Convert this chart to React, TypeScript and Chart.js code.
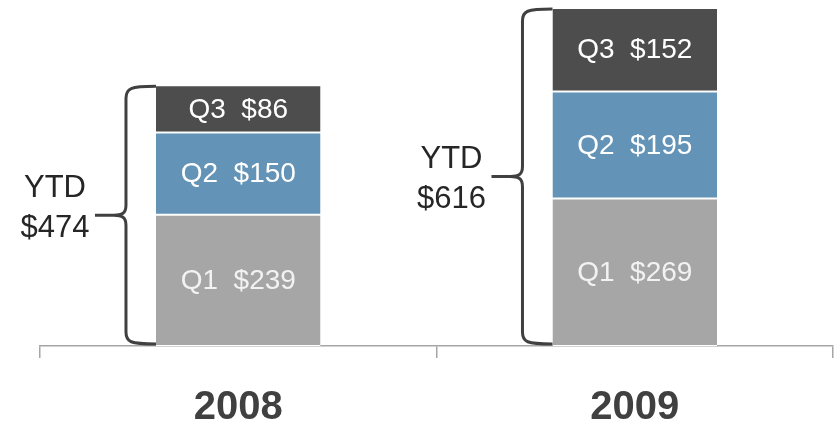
import React, { useEffect, useRef } from 'react';
import { Chart, registerables } from 'chart.js';

Chart.register(...registerables);

const categories = ['2008', '2009'];
const seriesNames = ['Q1', 'Q2', 'Q3'];
const q1Values = [239, 269];
const q2Values = [150, 195];
const q3Values = [86, 152];
const ytdLabels = ['$474', '$616'];
const yMax = 616;

const colors = ['#a6a6a6', '#6393b6', '#4d4d4d'];
const labelColors = ['#f2f2f2', '#ffffff', '#ffffff'];
const FONT = '"Liberation Sans", Arial, sans-serif';

const overlayPlugin = {
  id: 'overlay',
  afterDatasetsDraw(chart: any) {
    const ctx = chart.ctx;
    const yScale = chart.scales.y;
    ctx.save();
    // segment labels
    chart.data.datasets.forEach((ds: any, di: number) => {
      const meta = chart.getDatasetMeta(di);
      meta.data.forEach((el: any, i: number) => {
        const cy = (el.y + el.base) / 2;
        ctx.fillStyle = labelColors[di];
        ctx.font = `28px ${FONT}`;
        ctx.textAlign = 'center';
        ctx.textBaseline = 'middle';
        ctx.fillText(`${seriesNames[di]}  $${ds.data[i]}`, el.x, cy + 1);
      });
    });
    // braces
    const meta0 = chart.getDatasetMeta(0);
    const textDy = [-8, 2];
    categories.forEach((_, i) => {
      const el = meta0.data[i];
      const barLeft = el.x - el.width / 2;
      const total = q1Values[i] + q2Values[i] + q3Values[i];
      const top = yScale.getPixelForValue(total) + 1;
      const bottom = yScale.getPixelForValue(0) - 2;
      const vx = barLeft - 30;
      const tipX = vx - 31;
      const mid = (top + bottom) / 2;
      ctx.strokeStyle = '#404040';
      ctx.lineWidth = 3;
      ctx.lineJoin = 'round';
      ctx.beginPath();
      ctx.moveTo(barLeft, top);
      ctx.bezierCurveTo(vx + 4, top, vx, top + 2, vx, top + 12);
      ctx.lineTo(vx, mid - 10);
      ctx.bezierCurveTo(vx, mid - 2, vx - 4, mid, vx - 12, mid);
      ctx.lineTo(tipX, mid);
      ctx.moveTo(vx - 12, mid);
      ctx.bezierCurveTo(vx - 4, mid, vx, mid + 2, vx, mid + 10);
      ctx.lineTo(vx, bottom - 12);
      ctx.bezierCurveTo(vx, bottom - 2, vx + 4, bottom, barLeft, bottom);
      ctx.stroke();

      const tx = tipX - 40;
      const ty = mid + textDy[i];
      ctx.fillStyle = '#262626';
      ctx.font = `31px ${FONT}`;
      ctx.textAlign = 'center';
      ctx.textBaseline = 'middle';
      ctx.fillText('YTD', tx, ty - 19);
      ctx.fillText(ytdLabels[i], tx, ty + 21);
    });
    ctx.restore();
  },
};

export default function App() {
  const ref = useRef<HTMLCanvasElement | null>(null);
  useEffect(() => {
    if (!ref.current) return;
    const chart = new Chart(ref.current, {
      type: 'bar',
      data: {
        labels: categories,
        datasets: [q1Values, q2Values, q3Values].map((vals, di) => ({
          label: seriesNames[di],
          data: vals,
          backgroundColor: colors[di],
          borderColor: '#ffffff',
          borderWidth: { top: 1, bottom: 1, left: 0, right: 0 },
          borderSkipped: false,
          categoryPercentage: 1,
          barPercentage: 0.415,
        })),
      },
      options: {
        animation: false,
        responsive: false,
        maintainAspectRatio: false,
        layout: { padding: { left: 40, right: 6, top: 8, bottom: 0 } },
        plugins: {
          legend: { display: false },
          tooltip: { enabled: false },
        },
        scales: {
          x: {
            stacked: true,
            afterFit: (scale: any) => {
              scale.height = 83;
            },
            grid: {
              display: true,
              drawOnChartArea: false,
              offset: true,
              color: '#a6a6a6',
              tickLength: 12,
              lineWidth: 1.5,
            },
            border: { display: true, color: '#a6a6a6', width: 1.5 },
            ticks: {
              color: '#404040',
              padding: 26,
              font: { family: FONT, size: 40, weight: 'bold' },
            },
          },
          y: {
            stacked: true,
            display: false,
            min: 0,
            max: yMax,
          },
        },
      },
      plugins: [overlayPlugin],
    });
    return () => chart.destroy();
  }, []);
  return (
    <div style={{ position: 'fixed', left: 0, top: 0, width: 839, height: 429, background: '#fff' }}>
      <canvas ref={ref} width={839} height={429} style={{ display: 'block' }} />
    </div>
  );
}
